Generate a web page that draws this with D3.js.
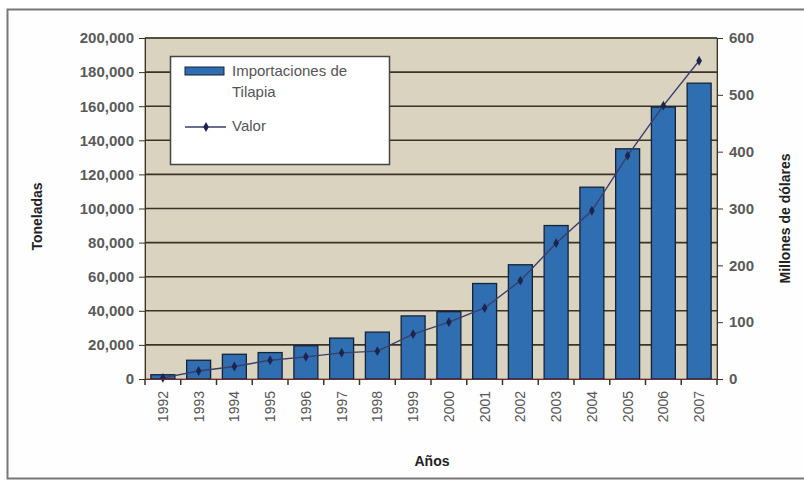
<!DOCTYPE html>
<html><head><meta charset="utf-8">
<script src="https://cdn.jsdelivr.net/npm/d3@7"></script>
<style>body{margin:0;background:#fff}svg{display:block}</style>
</head><body>
<script>
const years = ["1992","1993","1994","1995","1996","1997","1998","1999","2000","2001","2002","2003","2004","2005","2006","2007"];
const toneladas = [2500,11000,14500,15500,19500,24000,27500,37000,39500,56000,67000,90000,112500,135000,159500,173500];
const valor = [2,14,22,33,39,46,49,79,100,125,173,239,296,393,481,560];
const leftTicks = [0,20000,40000,60000,80000,100000,120000,140000,160000,180000,200000];
const rightTicks = [0,100,200,300,400,500,600];

const W=804,H=480;
const svg=d3.select("body").append("svg").attr("width",W).attr("height",H);
svg.append("rect").attr("x",7.5).attr("y",9.5).attr("width",W-6).attr("height",H-11)
  .attr("fill","#fefefe").attr("stroke","#777").attr("stroke-width",2);

const m={l:145,r:717,t:38,b:379};
const x=d3.scaleBand().domain(years).range([m.l,m.r]).paddingInner(0.33).paddingOuter(0.165);
const xc=d3.scaleBand().domain(years).range([m.l,m.r]);
const yL=d3.scaleLinear().domain([0,200000]).range([m.b,m.t]);
const yR=d3.scaleLinear().domain([0,600]).range([m.b,m.t]);

svg.append("rect").attr("x",m.l).attr("y",m.t).attr("width",m.r-m.l).attr("height",m.b-m.t)
  .attr("fill","#d9d3c0").attr("stroke","#6b6455");
svg.append("g").selectAll("line").data(leftTicks.slice(1)).join("line")
  .attr("x1",m.l).attr("x2",m.r).attr("y1",d=>yL(d)).attr("y2",d=>yL(d))
  .attr("stroke","#3b3426").attr("stroke-width",1.6);

svg.append("g").selectAll("rect").data(years).join("rect")
  .attr("x",d=>x(d)).attr("width",x.bandwidth())
  .attr("y",(d,i)=>yL(toneladas[i])).attr("height",(d,i)=>yL(0)-yL(toneladas[i]))
  .attr("fill","#2f6eb0").attr("stroke","#142238").attr("stroke-width",1.3);

const line=d3.line().x((d,i)=>xc(years[i])+xc.bandwidth()/2).y(d=>yR(d));
svg.append("path").datum(valor).attr("d",line).attr("fill","none").attr("stroke","#3a3f6a").attr("stroke-width",1.4);
svg.append("g").selectAll("path").data(valor).join("path")
  .attr("transform",(d,i)=>`translate(${xc(years[i])+xc.bandwidth()/2},${yR(d)})`)
  .attr("d",d3.symbol(d3.symbolDiamond,28)).attr("fill","#1e2450");

const fnt="Arial, 'Liberation Sans', sans-serif";
// left axis
const ax=d3.axisLeft(yL).tickValues(leftTicks).tickFormat(d3.format(",")).tickSize(6).tickPadding(5);
const gl=svg.append("g").attr("transform",`translate(${m.l},0)`).call(ax);
gl.select(".domain").attr("stroke","#3b3426");
gl.selectAll(".tick line").attr("stroke","#3b3426");
gl.selectAll("text").attr("font-family",fnt).attr("font-size",15).attr("font-weight","bold").attr("fill","#5a5a5a");
// right axis
const ar=d3.axisRight(yR).tickValues(rightTicks).tickSize(6).tickPadding(6);
const gr=svg.append("g").attr("transform",`translate(${m.r},0)`).call(ar);
gr.select(".domain").attr("stroke","#3b3426");
gr.selectAll(".tick line").attr("stroke","#3b3426");
gr.selectAll("text").attr("font-family",fnt).attr("font-size",15).attr("font-weight","bold").attr("fill","#5a5a5a");
// bottom axis
const ab=d3.axisBottom(xc).tickSize(0).tickPadding(0);
const gb=svg.append("g").attr("transform",`translate(0,${m.b})`).call(ab);
gb.select(".domain").attr("stroke","#7a2a2a").attr("stroke-width",1.2);
gb.selectAll(".tick text").attr("font-family",fnt).attr("font-size",14).attr("fill","#555")
  .attr("text-anchor","end").attr("dy","0.35em").attr("transform","translate(0,12) rotate(-90)");
svg.append("g").selectAll("line").data(years.concat(["end"])).join("line")
  .attr("x1",(d,i)=>m.l+i*xc.bandwidth()).attr("x2",(d,i)=>m.l+i*xc.bandwidth())
  .attr("y1",m.b).attr("y2",m.b+6).attr("stroke","#3b3426").attr("stroke-width",1.5);

// axis titles
svg.append("text").attr("transform",`translate(42,${(m.t+m.b)/2+8}) rotate(-90)`).attr("text-anchor","middle")
  .attr("font-family",fnt).attr("font-size",14).attr("font-weight","bold").attr("fill","#222").text("Toneladas");
svg.append("text").attr("transform",`translate(790,${(m.t+m.b)/2+10}) rotate(-90)`).attr("text-anchor","middle")
  .attr("font-family",fnt).attr("font-size",14).attr("font-weight","bold").attr("fill","#222").text("Millones de dólares");
svg.append("text").attr("x",432).attr("y",466).attr("text-anchor","middle")
  .attr("font-family",fnt).attr("font-size",14).attr("font-weight","bold").attr("fill","#222").text("Años");

// legend
const lg=svg.append("g");
lg.append("rect").attr("x",170.5).attr("y",56.5).attr("width",219).attr("height",108).attr("fill","#fff").attr("stroke","#444").attr("stroke-width",1.5);
lg.append("rect").attr("x",185).attr("y",67).attr("width",39).attr("height",8).attr("fill","#2f6eb0").attr("stroke","#142238");
lg.append("text").attr("x",232).attr("y",76).attr("font-family",fnt).attr("font-size",15).attr("fill","#555").text("Importaciones de");
lg.append("text").attr("x",232).attr("y",97).attr("font-family",fnt).attr("font-size",15).attr("fill","#555").text("Tilapia");
lg.append("line").attr("x1",185).attr("x2",226).attr("y1",127).attr("y2",127).attr("stroke","#3a3f6a").attr("stroke-width",1.4);
lg.append("path").attr("transform","translate(206,127)").attr("d",d3.symbol(d3.symbolDiamond,28)).attr("fill","#1e2450");
lg.append("text").attr("x",232).attr("y",131).attr("font-family",fnt).attr("font-size",15).attr("fill","#555").text("Valor");
</script>
</body></html>
